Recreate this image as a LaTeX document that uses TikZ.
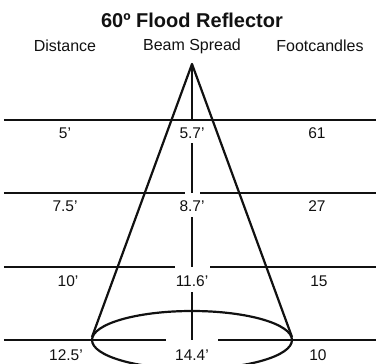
\documentclass[tikz,border=0pt]{standalone}
\usepackage{fontspec}
\setmainfont{Liberation Sans}
\usepackage{xcolor}
\usepackage{tikz}
\definecolor{ink}{HTML}{111111}

\begin{document}
\begin{tikzpicture}[x=1pt,y=-1pt,every node/.style={font=\fontsize{15.5}{17}\selectfont,text=ink,inner sep=0pt},
    rule/.style={ink,line width=2.2pt},
    cone/.style={ink,line width=2.2pt,line join=round}]
        \useasboundingbox (0,0) rectangle (376,364);
        \clip (0,0) rectangle (376,364);
        % heading
        \node[font=\bfseries\fontsize{20}{22}\selectfont] (title) at (192,20) {60º Flood Reflector};
        \node[font=\fontsize{16}{18}\selectfont] (hdist) at (65,46) {Distance};
        \node[font=\fontsize{16}{18}\selectfont] (hbeam) at (192,46) {Beam Spread};
        \node[font=\fontsize{16}{18}\selectfont] (hfoot) at (320,46) {Footcandles};
        % distance lines
        \coordinate (apex) at (192,64);
        \draw[rule] (4,120) -- (376,120);
        \draw[rule] (4,193) -- (185,193) (200,193) -- (376,193);
        \draw[rule] (4,267) -- (175,267) (210,267) -- (376,267);
        \draw[rule] (4,340) -- (166,340) (218,340) -- (376,340);
        % rows
        \node (d1) at (65,133) {5’};
        \node (b1) at (192,133) {5.7’};
        \node (f1) at (317,133) {61};
        \node (d2) at (65,206) {7.5’};
        \node (b2) at (192,206) {8.7’};
        \node (f2) at (317,206) {27};
        \node (d3) at (68,281) {10’};
        \node (b3) at (192,281) {11.6’};
        \node (f3) at (319,281) {15};
        \node (d4) at (66,355) {12.5’};
        \node (b4) at (192,355) {14.4’};
        \node (f4) at (318,355) {10};
        % beam cone
        \coordinate (base) at (192,340);
        \coordinate (baseL) at (92,337);
        \coordinate (baseR) at (292,337);
        \draw[cone] (baseL) -- (apex) -- (baseR);
        \draw[cone] (base) ellipse [x radius=100,y radius=29];
        \draw[cone] (apex) -- (192,120);
        \draw[cone] (192,143) -- (192,193);
        \draw[cone] (192,217) -- (192,267);
        \draw[cone] (192,292) -- (192,340);
      \end{tikzpicture}
\end{document}
